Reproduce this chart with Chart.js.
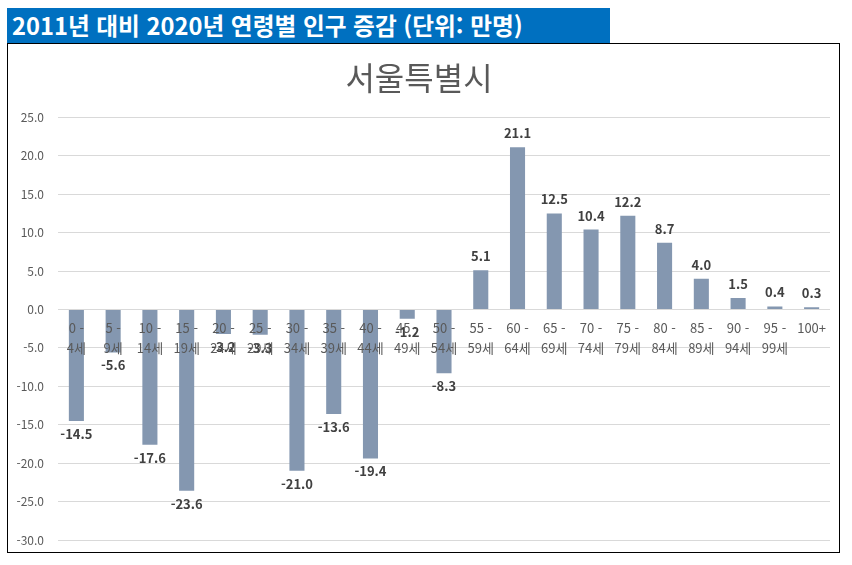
<!DOCTYPE html>
<html lang="ko">
<head>
<meta charset="utf-8">
<script src="https://cdn.jsdelivr.net/npm/chart.js@4.4.1/dist/chart.umd.min.js"></script>
<style>
  body { margin: 0; background: #fff; font-family: "Noto Sans CJK KR", sans-serif; }
  .banner {
    position: absolute; left: 7px; top: 8px; width: 603px; height: 35px;
    background: #0070c0; color: #fff; font-weight: bold; font-size: 23.7px;
    line-height: 35px; padding-left: 5px; box-sizing: border-box; white-space: nowrap;
  }
  .box {
    position: absolute; left: 7px; top: 43px; width: 833px; height: 510px;
    border: 1px solid #000; box-sizing: border-box;
  }
</style>
</head>
<body>
<div class="banner">2011년 대비 2020년 연령별 인구 증감 (단위: 만명)</div>
<div class="box"><canvas id="chart" width="831" height="508"></canvas></div>
<script>
const ageGroups = [
  ['0 -', '4세'], ['5 -', '9세'], ['10 -', '14세'], ['15 -', '19세'],
  ['20 -', '24세'], ['25 -', '29세'], ['30 -', '34세'], ['35 -', '39세'],
  ['40 -', '44세'], ['45 -', '49세'], ['50 -', '54세'], ['55 -', '59세'],
  ['60 -', '64세'], ['65 -', '69세'], ['70 -', '74세'], ['75 -', '79세'],
  ['80 -', '84세'], ['85 -', '89세'], ['90 -', '94세'], ['95 -', '99세'],
  ['100+'],
];
const change = [
  -14.5, -5.6, -17.6, -23.6, -3.2, -3.3, -21.0, -13.6, -19.4, -1.2, -8.3,
  5.1, 21.1, 12.5, 10.4, 12.2, 8.7, 4.0, 1.5, 0.4, 0.3,
];
const yMin = -30;
const yMax = 25;
const yStep = 5;

const FONT = '"Noto Sans CJK KR", "Noto Sans", sans-serif';

// draws the value above / below each bar
const barValues = {
  id: 'barValues',
  afterDatasetsDraw(chart) {
    const { ctx } = chart;
    const meta = chart.getDatasetMeta(0);
    ctx.save();
    ctx.font = `bold 13px ${FONT}`;
    ctx.fillStyle = '#404040';
    ctx.textAlign = 'center';
    ctx.textBaseline = 'middle';
    meta.data.forEach((bar, i) => {
      const v = change[i];
      const y = v >= 0 ? bar.y - 14 : bar.y + 13;
      ctx.fillText(v.toFixed(1), bar.x, y);
    });
    ctx.restore();
  },
};

new Chart(document.getElementById('chart'), {
  type: 'bar',
  data: {
    labels: ageGroups,
    datasets: [{
      label: '서울특별시',
      data: change,
      backgroundColor: '#8497b0',
      barPercentage: 0.41,
      categoryPercentage: 1,
    }],
  },
  options: {
    responsive: false,
    animation: false,
    layout: { padding: { left: 0, right: 9, bottom: 12 } },
    plugins: {
      legend: { display: false },
      tooltip: { enabled: false },
      title: {
        display: true,
        text: '서울특별시',
        color: '#595959',
        font: { family: FONT, size: 32, weight: 'normal' },
        padding: { top: 15, bottom: 20 },
      },
    },
    scales: {
      x: {
        position: { y: 0 },
        grid: { display: false, drawTicks: false },
        border: { display: false },
        ticks: {
          z: 1,
          color: '#595959',
          font: { family: FONT, size: 13, lineHeight: 20 / 13 },
          padding: 9,
          maxRotation: 0,
          autoSkip: false,
        },
        afterFit(scale) { scale.height = 0; },
      },
      y: {
        min: yMin,
        max: yMax,
        grid: { color: '#d9d9d9', drawTicks: false },
        border: { display: false },
        ticks: {
          stepSize: yStep,
          color: '#595959',
          font: { family: FONT, size: 12 },
          padding: 14,
          callback: (v) => Number(v).toFixed(1),
        },
        afterFit(scale) {
          scale.width = 50;
          scale.paddingTop = 0;
          scale.paddingBottom = 0;
        },
      },
    },
  },
  plugins: [barValues],
});
</script>
</body>
</html>
